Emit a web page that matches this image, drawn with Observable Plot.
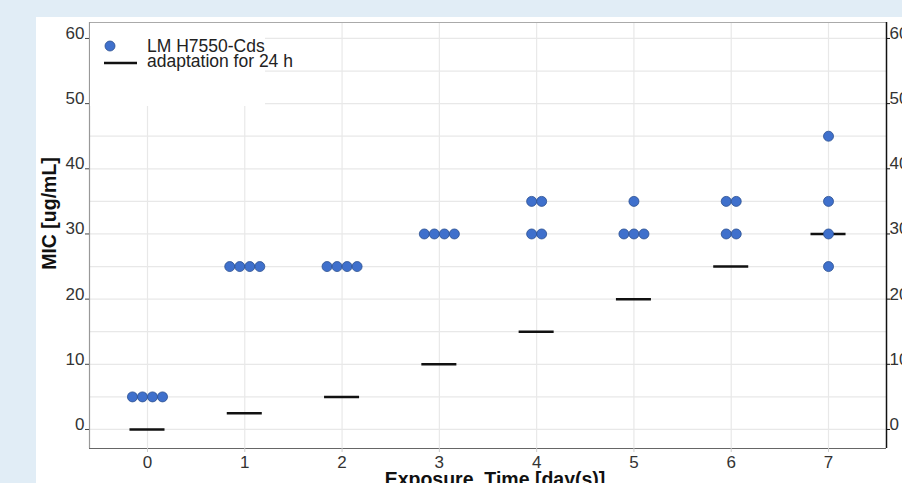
<!DOCTYPE html>
<html><head><meta charset="utf-8">
<script src="https://cdn.jsdelivr.net/npm/d3@7"></script>
<script src="https://cdn.jsdelivr.net/npm/@observablehq/plot@0.6"></script>
<style>
html,body{margin:0;padding:0;background:#e1edf6;width:902px;height:483px;overflow:hidden;font-family:"Liberation Sans",Arial,sans-serif}
#panel{position:absolute;left:36px;top:17px;width:866px;height:466px;background:#fff;overflow:hidden}
#legend{position:absolute;left:54px;top:6px;width:175px;height:83px;background:#fff;overflow:visible}
svg text{white-space:pre}
</style></head><body>
<div id="panel"><div id="chart"></div>
<svg id="legend" width="175" height="83">
  <circle cx="20" cy="23" r="5" fill="#3f70cc" stroke="#2b4f8f" stroke-width="0.8"></circle>
  <text x="57" y="23" dy="0.35em" font-size="17.5" fill="#222" font-family="Liberation Sans, Arial, sans-serif">LM H7550-Cds</text>
  <line x1="14" x2="47" y1="40" y2="40" stroke="#111" stroke-width="2.5"></line>
  <text x="57" y="38" dy="0.35em" font-size="17.5" fill="#222" font-family="Liberation Sans, Arial, sans-serif">adaptation for 24 h</text>
</svg>
</div>
<script>
// ---- data ----
const days = [0, 1, 2, 3, 4, 5, 6, 7];
const adaptation = [0, 2.5, 5, 10, 15, 20, 25, 30];
const micDay =   [0,0,0,0, 1,1,1,1, 2,2,2,2, 3,3,3,3, 4,4,4,4, 5,5,5,5, 6,6,6,6, 7,7,7,7];
const micValue = [5,5,5,5, 25,25,25,25, 25,25,25,25, 30,30,30,30, 35,35,30,30, 35,30,30,30, 35,35,30,30, 45,35,30,25];
const yTicks = [0, 10, 20, 30, 40, 50, 60];
const yGrid = [0, 5, 10, 15, 20, 25, 30, 35, 40, 45, 50, 55, 60];
const xLabel = "Exposure  Time [day(s)]";
const yLabel = "MIC [ug/mL]";

// ---- build tables ----
const spread = 0.103;
const mic = micDay.map((d, i) => ({day: d, value: micValue[i]}));
for (const [, byV] of d3.group(mic, d => d.day, d => d.value)) {
  for (const [, arr] of byV) arr.forEach((d, i) => d.offset = (i - (arr.length - 1) / 2) * spread);
}
const adapt = days.map((d, i) => ({day: d, value: adaptation[i]}));

const xDom = [-0.596, 7.596];
const yDom = [-2.92, 62.45];
const font = "Liberation Sans, Arial, sans-serif";

const chart = Plot.plot({
  width: 866, height: 466,
  marginLeft: 53, marginRight: 16, marginTop: 5, marginBottom: 35,
  style: {fontFamily: font, fontSize: "17px", color: "#333", background: "transparent", overflow: "visible"},
  x: {domain: xDom},
  y: {domain: yDom},
  marks: [
    Plot.gridY(yGrid, {stroke: "#e8e8e8", strokeOpacity: 1, strokeWidth: 1.2}),
    Plot.gridX(days, {stroke: "#e8e8e8", strokeOpacity: 1, strokeWidth: 1.2}),
    // frame
    Plot.ruleY([yDom[1]], {stroke: "#aaa"}),
    Plot.ruleX([xDom[0]], {stroke: "#999", strokeWidth: 1.2}),
    Plot.ruleY([yDom[0]], {stroke: "#666", strokeWidth: 1.2}),
    Plot.ruleX([xDom[1]], {stroke: "#111", strokeWidth: 1.5}),
    // left axis
    Plot.axisY(yTicks, {anchor: "left", tickSize: 4, tickFormat: () => "", label: null, stroke: "#444"}),
    Plot.axisY(yTicks, {anchor: "left", tickSize: 0, tickPadding: 5, dy: -5, label: null, fill: "#333", fontSize: 17}),
    // right axis
    Plot.axisY(yTicks, {anchor: "right", tickSize: 3, tickFormat: () => "", label: null, stroke: "#111"}),
    Plot.axisY(yTicks, {anchor: "right", tickSize: 0, tickPadding: 3, dy: -5, label: null, fill: "#333", fontSize: 17}),
    // bottom axis
    Plot.axisX(days, {tickSize: 4, tickFormat: () => "", label: null, stroke: "#ccc"}),
    Plot.axisX(days, {tickSize: 0, tickPadding: 7, label: null, fill: "#333", fontSize: 17}),
    // data
    Plot.ruleY(adapt, {y: "value", x1: d => d.day - 0.18, x2: d => d.day + 0.18, stroke: "#111", strokeWidth: 2.5}),
    Plot.dot(mic, {x: d => d.day + d.offset, y: "value", r: 5, fill: "#3f70cc", stroke: "#2b4f8f", strokeWidth: 0.8}),
    // axis titles
    Plot.text([yLabel], {frameAnchor: "left", textAnchor: "middle", rotate: -90, dx: -40, dy: -22, fontSize: 19.5, fontWeight: "bold", fill: "#111"}),
    Plot.text([xLabel], {frameAnchor: "bottom", textAnchor: "middle", dy: 37, dx: 7, fontSize: 19.5, fontWeight: "bold", fill: "#111"})
  ]
});
document.getElementById("chart").appendChild(chart);
</script>
</body></html>
